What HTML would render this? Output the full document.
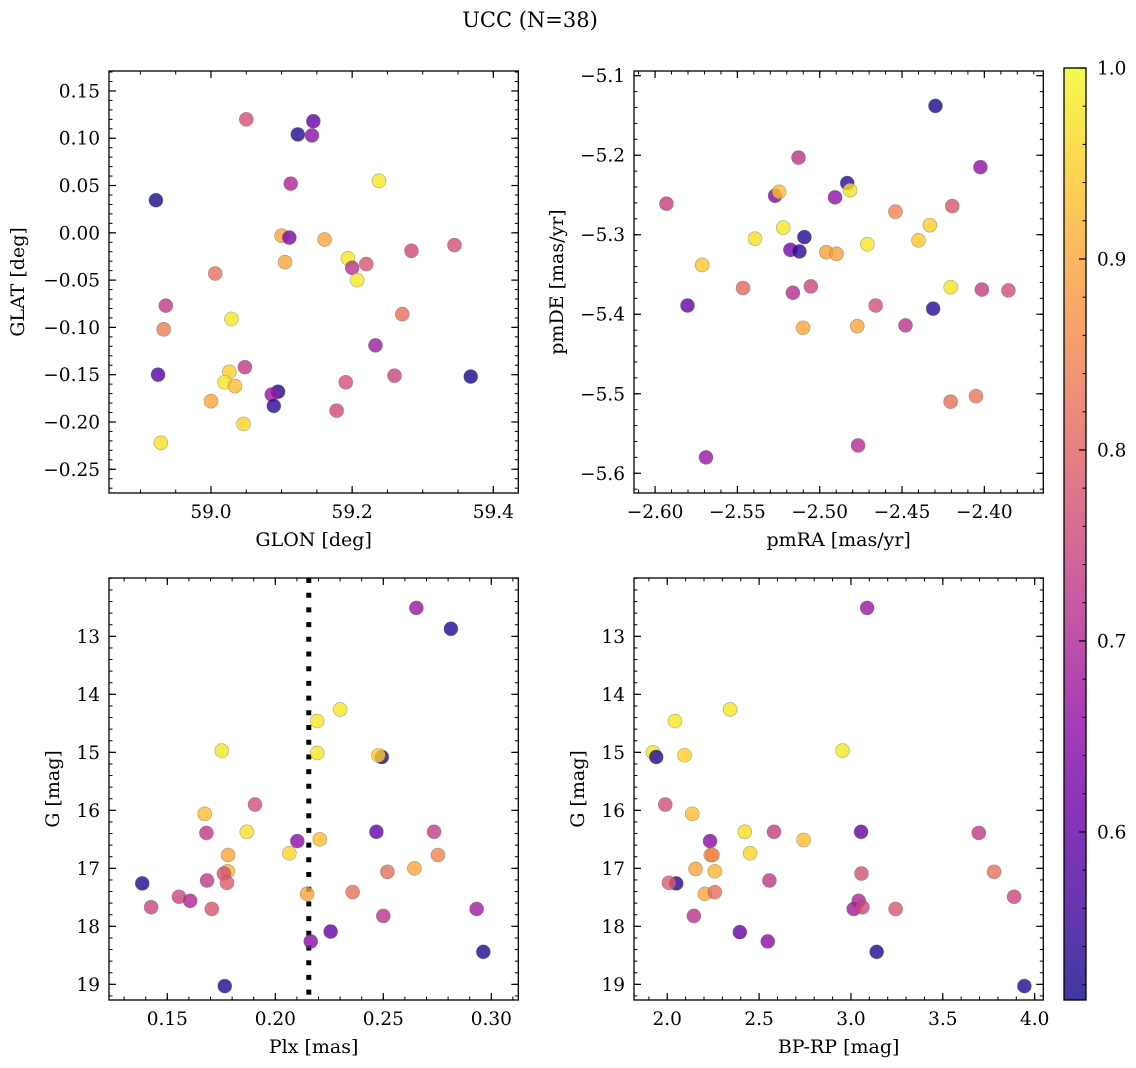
<!DOCTYPE html>
<html><head><meta charset="utf-8">
<style>
html,body{margin:0;padding:0;background:#fff;}
svg{display:block;font-family:"DejaVu Serif","Liberation Serif",serif;}
</style></head>
<body>
<svg id="fig" width="1136" height="1068" viewBox="0 0 1136 1068" xmlns="http://www.w3.org/2000/svg">
<defs>
<linearGradient id="plasmaGrad" x1="0" y1="1" x2="0" y2="0">
<stop offset="0" stop-color="#0d0887" stop-opacity="0.8"/>
<stop offset="0.1" stop-color="#41049d" stop-opacity="0.8"/>
<stop offset="0.2" stop-color="#6a00a8" stop-opacity="0.8"/>
<stop offset="0.3" stop-color="#8f0da4" stop-opacity="0.8"/>
<stop offset="0.4" stop-color="#b12a90" stop-opacity="0.8"/>
<stop offset="0.5" stop-color="#cc4778" stop-opacity="0.8"/>
<stop offset="0.6" stop-color="#e16462" stop-opacity="0.8"/>
<stop offset="0.7" stop-color="#f2844b" stop-opacity="0.8"/>
<stop offset="0.8" stop-color="#fca636" stop-opacity="0.8"/>
<stop offset="0.9" stop-color="#fcce25" stop-opacity="0.8"/>
<stop offset="1" stop-color="#f0f921" stop-opacity="0.8"/>
</linearGradient>
</defs>
<text x="530" y="27" font-size="21" text-anchor="middle">UCC (N=38)</text>
</svg>
<script>
// ---- Panel 1: GLON vs GLAT ----
const p1Lon=[58.922,59.050,59.123,59.145,59.143,59.113,59.238,59.100,59.111,59.161,59.105,59.006,59.194,59.200,59.220,59.207,59.284,59.345,58.936,58.933,59.029,59.271,59.233,58.925,59.048,59.026,59.019,59.034,59.000,59.095,59.086,59.089,59.046,59.191,59.260,59.368,59.178,58.929];
const p1Lat=[0.0345,0.120,0.104,0.118,0.103,0.052,0.055,-0.003,-0.005,-0.007,-0.031,-0.043,-0.027,-0.037,-0.033,-0.050,-0.019,-0.013,-0.077,-0.102,-0.091,-0.086,-0.119,-0.150,-0.142,-0.147,-0.158,-0.162,-0.178,-0.168,-0.171,-0.183,-0.202,-0.158,-0.151,-0.152,-0.188,-0.222];
const p1Prob=[0.52,0.77,0.53,0.60,0.65,0.70,0.98,0.90,0.63,0.90,0.90,0.82,0.98,0.72,0.78,0.98,0.76,0.77,0.73,0.84,0.98,0.82,0.68,0.58,0.73,0.95,0.98,0.93,0.90,0.53,0.67,0.54,0.96,0.77,0.75,0.52,0.76,0.97];
// ---- Panel 2: pmRA vs pmDE ----
const p2PmRA=[-2.4297,-2.5129,-2.4024,-2.4833,-2.4816,-2.5271,-2.5247,-2.4907,-2.5931,-2.4195,-2.4540,-2.4331,-2.5222,-2.5093,-2.5393,-2.4400,-2.4711,-2.5178,-2.5123,-2.4960,-2.4898,-2.5714,-2.4204,-2.4015,-2.3854,-2.5466,-2.5054,-2.5163,-2.5803,-2.4660,-2.4311,-2.4479,-2.5101,-2.4772,-2.4205,-2.4051,-2.4767,-2.5691];
const p2PmDE=[-5.138,-5.203,-5.215,-5.235,-5.244,-5.251,-5.246,-5.253,-5.261,-5.264,-5.271,-5.288,-5.291,-5.303,-5.305,-5.307,-5.312,-5.319,-5.321,-5.322,-5.324,-5.338,-5.366,-5.369,-5.370,-5.367,-5.365,-5.373,-5.389,-5.389,-5.393,-5.414,-5.417,-5.415,-5.510,-5.503,-5.565,-5.580];
const p2Prob=[0.52,0.72,0.66,0.54,0.97,0.64,0.93,0.66,0.74,0.78,0.85,0.95,0.98,0.53,0.97,0.94,0.98,0.62,0.54,0.89,0.89,0.94,0.98,0.74,0.77,0.81,0.75,0.71,0.60,0.77,0.54,0.72,0.90,0.90,0.82,0.83,0.71,0.67];
// ---- Panel 3: Plx vs G ----
const p3Plx=[0.2653,0.2813,0.2300,0.2194,0.1752,0.2194,0.2493,0.2477,0.1906,0.1673,0.1681,0.1868,0.2468,0.2735,0.2102,0.2206,0.1781,0.2065,0.2753,0.1780,0.1762,0.2519,0.2644,0.1384,0.1684,0.1776,0.2147,0.2358,0.1554,0.1606,0.1425,0.1706,0.2932,0.2500,0.2256,0.2164,0.2963,0.1766];
const p3G=[12.51,12.87,14.26,14.46,14.97,15.01,15.08,15.05,15.90,16.06,16.39,16.37,16.37,16.37,16.53,16.50,16.77,16.74,16.77,17.05,17.09,17.06,17.00,17.26,17.21,17.25,17.44,17.41,17.49,17.56,17.67,17.70,17.70,17.82,18.09,18.26,18.44,19.03];
const p3Prob=[0.67,0.53,0.98,0.98,0.98,0.98,0.53,0.95,0.77,0.93,0.73,0.97,0.60,0.74,0.65,0.93,0.90,0.96,0.85,0.92,0.77,0.82,0.90,0.53,0.73,0.79,0.90,0.82,0.75,0.70,0.75,0.78,0.68,0.72,0.60,0.65,0.53,0.53];
const plxLine=[0.2155];
// ---- Panel 4: BP-RP vs G ----
const p4BPRP=[3.088,2.342,2.042,1.922,1.940,2.094,2.954,1.989,2.136,2.422,2.581,3.055,3.696,2.233,2.742,2.237,2.451,2.246,2.259,2.154,3.057,3.779,2.049,2.009,2.556,2.205,2.259,3.888,3.042,3.015,3.062,3.243,2.145,2.395,2.547,3.140,3.944];
const p4G=[12.51,14.26,14.46,15.00,15.08,15.05,14.97,15.90,16.06,16.37,16.37,16.37,16.39,16.53,16.51,16.77,16.74,16.77,17.05,17.01,17.09,17.06,17.26,17.25,17.21,17.44,17.41,17.49,17.56,17.70,17.67,17.70,17.82,18.10,18.26,18.44,19.03];
const p4Prob=[0.67,0.98,0.98,0.98,0.53,0.95,0.98,0.77,0.93,0.97,0.74,0.60,0.73,0.65,0.93,0.90,0.96,0.85,0.92,0.90,0.77,0.82,0.53,0.79,0.73,0.90,0.82,0.75,0.70,0.68,0.75,0.78,0.72,0.60,0.65,0.53,0.53];
// ---- ticks ----
const p1XTicks=[59.0,59.2,59.4];
const p1YTicks=[0.15,0.10,0.05,0.00,-0.05,-0.10,-0.15,-0.20,-0.25];
const p2XTicks=[-2.60,-2.55,-2.50,-2.45,-2.40];
const p2YTicks=[-5.1,-5.2,-5.3,-5.4,-5.5,-5.6];
const p3XTicks=[0.15,0.20,0.25,0.30];
const gTicks=[13,14,15,16,17,18,19];
const p4XTicks=[2.0,2.5,3.0,3.5,4.0];
const cbTicks=[0.6,0.7,0.8,0.9,1.0];
const cbMin=0.512, cbMax=1.0;

const NS="http://www.w3.org/2000/svg";
const svg=document.getElementById('fig');
const TICKFS=18.5, LABFS=19;
function mk(tag,attrs,parent){const e=document.createElementNS(NS,tag);for(const k in attrs)e.setAttribute(k,attrs[k]);(parent||svg).appendChild(e);return e;}
const stops=[[0,[13,8,135]],[0.1,[65,4,157]],[0.2,[106,0,168]],[0.3,[143,13,164]],[0.4,[177,42,144]],[0.5,[204,71,120]],[0.6,[225,100,98]],[0.7,[242,132,75]],[0.8,[252,166,54]],[0.9,[252,206,37]],[1,[240,249,33]]];
function plasma(v){let t=(v-cbMin)/(cbMax-cbMin);t=Math.max(0,Math.min(1,t));for(let i=0;i<stops.length-1;i++){const a=stops[i],b=stops[i+1];if(t<=b[0]){const f=(t-a[0])/(b[0]-a[0]);const c=a[1].map((x,j)=>Math.round(x+(b[1][j]-x)*f));return 'rgb('+c.join(',')+')';}}return 'rgb(240,249,33)';}
function fmt(v,d){return v.toFixed(d).replace('-','\u2212');}

function panel(cfg){
  const g=mk('g',{});
  
  
  const sx=v=>cfg.x0+(v-cfg.xmin)/(cfg.xmax-cfg.xmin)*cfg.w;
  const sy=v=>cfg.y0+(cfg.yTop-v)/(cfg.yTop-cfg.yBot)*cfg.h;
  const x1=cfg.x0+cfg.w, y1=cfg.y0+cfg.h;
  if(cfg.vline){cfg.vline.forEach(v=>{const l=mk('line',{x1:sx(v),x2:sx(v),y1:cfg.y0,y2:y1,stroke:'#000','stroke-width':5,'stroke-dasharray':'5,9.7'},g);
    
    });}
  for(let i=0;i<cfg.xs.length;i++){
    const c=mk('circle',{cx:sx(cfg.xs[i]),cy:sy(cfg.ys[i]),r:7,fill:plasma(cfg.cs[i]),'fill-opacity':0.8,stroke:'rgba(90,90,90,0.5)','stroke-width':0.6},g);
    
    
  }
  const lo=Math.min(cfg.xmin,cfg.xmax),hi=Math.max(cfg.xmin,cfg.xmax);
  for(let k=Math.ceil(lo/cfg.xMinor-1e-6);k*cfg.xMinor<=hi+1e-9;k++){const px=sx(k*cfg.xMinor);
    mk('line',{x1:px,x2:px,y1:y1,y2:y1-3.5,stroke:'#000','stroke-width':1},g);mk('line',{x1:px,x2:px,y1:cfg.y0,y2:cfg.y0+3.5,stroke:'#000','stroke-width':1},g);}
  const ylo=Math.min(cfg.yTop,cfg.yBot),yhi=Math.max(cfg.yTop,cfg.yBot);
  for(let k=Math.ceil(ylo/cfg.yMinor-1e-6);k*cfg.yMinor<=yhi+1e-9;k++){const py=sy(k*cfg.yMinor);
    mk('line',{x1:cfg.x0,x2:cfg.x0+3.5,y1:py,y2:py,stroke:'#000','stroke-width':1},g);mk('line',{x1:x1,x2:x1-3.5,y1:py,y2:py,stroke:'#000','stroke-width':1},g);}
  cfg.xTicks.forEach(v=>{const px=sx(v);
    mk('line',{x1:px,x2:px,y1:y1,y2:y1-7,stroke:'#000','stroke-width':1.2},g);mk('line',{x1:px,x2:px,y1:cfg.y0,y2:cfg.y0+7,stroke:'#000','stroke-width':1.2},g);
    const t=mk('text',{x:px,y:y1+25,'font-size':TICKFS,'text-anchor':'middle'},g);t.textContent=fmt(v,cfg.xDec);
    
    });
  cfg.yTicks.forEach(v=>{const py=sy(v);
    mk('line',{x1:cfg.x0,x2:cfg.x0+7,y1:py,y2:py,stroke:'#000','stroke-width':1.2},g);mk('line',{x1:x1,x2:x1-7,y1:py,y2:py,stroke:'#000','stroke-width':1.2},g);
    const t=mk('text',{x:cfg.x0-9,y:py+6.5,'font-size':TICKFS,'text-anchor':'end'},g);t.textContent=fmt(v,cfg.yDec);
    
    });
  mk('rect',{x:cfg.x0,y:cfg.y0,width:cfg.w,height:cfg.h,fill:'none',stroke:'#000','stroke-width':1.3},g);
  const xl=mk('text',{x:cfg.x0+cfg.w/2,y:y1+53,'font-size':LABFS,'text-anchor':'middle'},g);xl.textContent=cfg.xlabel;
  
  
  const yl=mk('text',{x:0,y:0,'font-size':LABFS,'text-anchor':'middle',transform:'translate('+cfg.ylx+','+(cfg.y0+cfg.h/2)+') rotate(-90)'},g);yl.textContent=cfg.ylabel;
  
  
}

panel({name:'glon-glat-panel',x0:109,y0:71,w:409.3,h:422,xmin:58.8555,xmax:59.4354,yTop:0.1711,yBot:-0.2751,xs:p1Lon,ys:p1Lat,cs:p1Prob,xTicks:p1XTicks,yTicks:p1YTicks,xMinor:0.05,yMinor:0.01,xDec:1,yDec:2,xlabel:'GLON [deg]',ylabel:'GLAT [deg]',ylx:24});
panel({name:'proper-motion-panel',x0:634,y0:71,w:409.3,h:422,xmin:-2.6128,xmax:-2.3642,yTop:-5.0941,yBot:-5.6248,xs:p2PmRA,ys:p2PmDE,cs:p2Prob,xTicks:p2XTicks,yTicks:p2YTicks,xMinor:0.01,yMinor:0.02,xDec:2,yDec:1,xlabel:'pmRA [mas/yr]',ylabel:'pmDE [mas/yr]',ylx:563});
panel({name:'plx-g-panel',x0:109,y0:578,w:409.3,h:422,xmin:0.1230,xmax:0.3125,yTop:11.994,yBot:19.27,xs:p3Plx,ys:p3G,cs:p3Prob,xTicks:p3XTicks,yTicks:gTicks,xMinor:0.01,yMinor:0.2,xDec:2,yDec:0,xlabel:'Plx [mas]',ylabel:'G [mag]',ylx:59,vline:plxLine});
panel({name:'cmd-panel',x0:634,y0:578,w:409.3,h:422,xmin:1.819,xmax:4.047,yTop:11.994,yBot:19.27,xs:p4BPRP,ys:p4G,cs:p4Prob,xTicks:p4XTicks,yTicks:gTicks,xMinor:0.1,yMinor:0.2,xDec:1,yDec:0,xlabel:'BP-RP [mag]',ylabel:'G [mag]',ylx:584});

const cbX=1064,cbY=68,cbW=22,cbH=932;
const cbg=mk('g',{});


const cby=v=>cbY+(cbMax-v)/(cbMax-cbMin)*cbH;
mk('rect',{x:cbX,y:cbY,width:cbW,height:cbH,fill:'url(#plasmaGrad)'},cbg);
for(let k=Math.ceil(cbMin/0.02-1e-6);k*0.02<=cbMax+1e-9;k++){const py=cby(k*0.02);mk('line',{x1:cbX+cbW,x2:cbX+cbW-3.5,y1:py,y2:py,stroke:'#000','stroke-width':1},cbg);}
cbTicks.forEach(v=>{const py=cby(v);mk('line',{x1:cbX+cbW,x2:cbX+cbW-7,y1:py,y2:py,stroke:'#000','stroke-width':1.2},cbg);
  const t=mk('text',{x:cbX+cbW+11,y:py+6.5,'font-size':TICKFS},cbg);t.textContent=v.toFixed(1);
  
  });
mk('rect',{x:cbX,y:cbY,width:cbW,height:cbH,fill:'none',stroke:'#000','stroke-width':1.3},cbg);
</script>
</body></html>
